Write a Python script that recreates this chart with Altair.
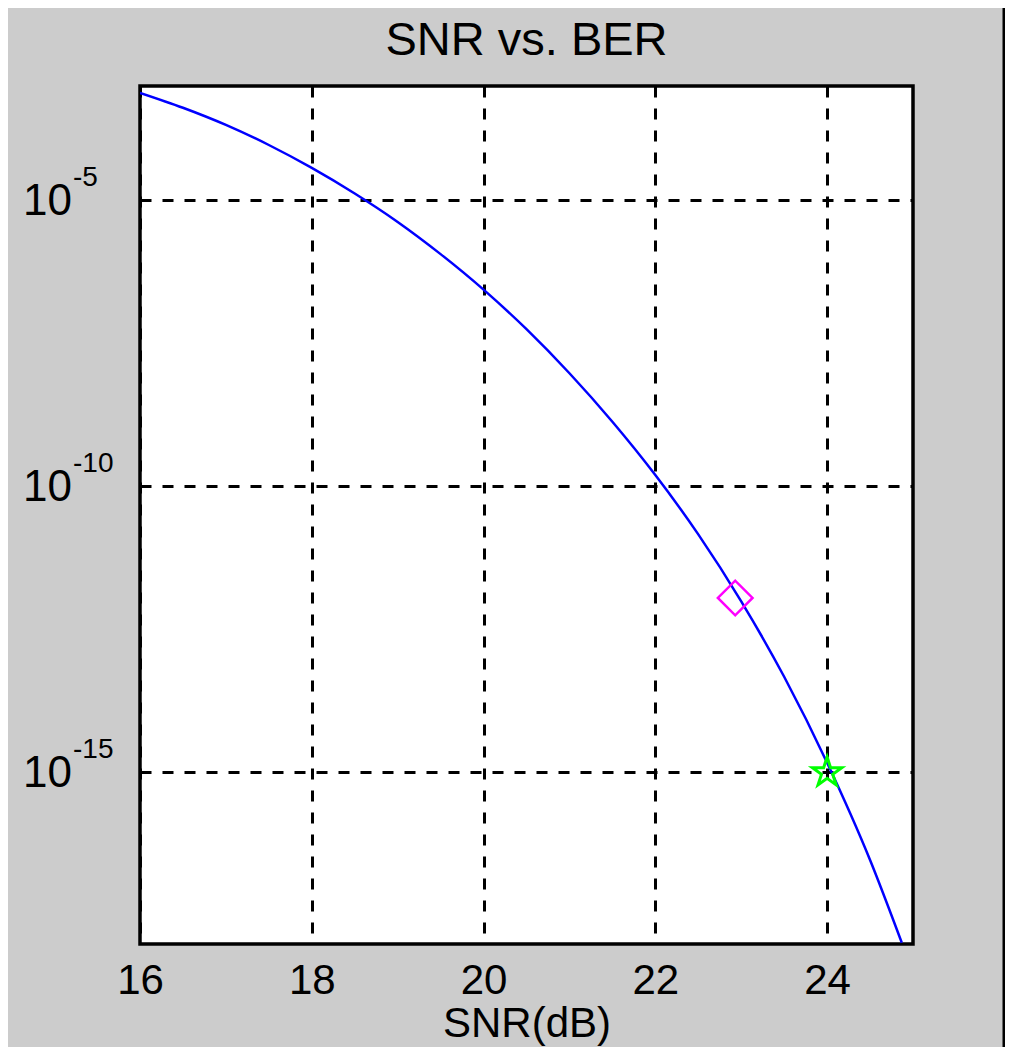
import altair as alt
import pandas as pd

# Curve
snr = [16, 16.5, 17, 17.5, 18, 18.5, 19, 19.5, 20, 20.5, 21, 21.5, 22, 22.5,
       23, 23.5, 24, 24.5, 24.87]
ber = [7.6e-4, 4.17e-4, 2.09e-4, 9.3e-5, 3.7e-5, 1.32e-5, 4.2e-6, 1.15e-6,
       2.75e-7, 5.6e-8, 9.5e-9, 1.35e-9, 1.58e-10, 1.45e-11, 9.8e-13, 4.7e-14,
       1.48e-15, 2.95e-17, 1.05e-18]

# Markers
diamond_snr = [22.93]
diamond_ber = [1.12e-12]
star_snr = [24]
star_ber = [1.0e-15]

# Axis ticks
x_ticks = [16, 18, 20, 22, 24]
y_ticks = [1e-5, 1e-10, 1e-15]
y_exps = ["-5", "-10", "-15"]

FONT = "Liberation Sans"
PLOT_W, PLOT_H = 773, 858
PAD_L, PAD_T = 132, 78
CANVAS_W, CANVAS_H = 997, 1039

curve_df = pd.DataFrame({"snr": snr, "ber": ber})
dia_df = pd.DataFrame({"snr": diamond_snr, "ber": diamond_ber})
star_df = pd.DataFrame({"snr": star_snr, "ber": star_ber})
ylab_df = pd.DataFrame({"snr": [16] * len(y_ticks), "ber": y_ticks, "exp": y_exps,
                        "base": ["10"] * len(y_ticks)})

x_scale = alt.Scale(domain=[16, 25], nice=False, zero=False)
y_scale = alt.Scale(type="log", domain=[1e-18, 1e-3], nice=False)

x_axis = alt.Axis(values=x_ticks, grid=True, gridColor="black", gridDash=[11, 11],
                  gridWidth=3, gridOpacity=1, ticks=False, domain=False,
                  labelFont=FONT, labelFontSize=42, labelColor="black",
                  labelPadding=16, title="SNR(dB)", titleFont=FONT,
                  titleFontSize=42, titleFontWeight="normal", titleColor="black",
                  titlePadding=2, labelFlush=False)
y_axis = alt.Axis(values=y_ticks, grid=True, gridColor="black", gridDash=[11, 11],
                  gridWidth=3, gridOpacity=1, ticks=False, domain=False,
                  labels=False, title=None)

X = alt.X("snr:Q", scale=x_scale, axis=x_axis, title="SNR(dB)")
Y = alt.Y("ber:Q", scale=y_scale, axis=y_axis, title=None)

line = alt.Chart(curve_df).mark_line(color="#0000ff", strokeWidth=2.5,
                                     interpolate="monotone", clip=True).encode(
    x=X, y=Y,
)

diamond = alt.Chart(dia_df).mark_point(shape="diamond", filled=False,
                                       color="#ff00ff", size=1200,
                                       strokeWidth=2.5, opacity=1).encode(
    x=X, y=Y,
)

star_path = ("M0,-1L0.2245,-0.309L0.951,-0.309L0.363,0.118L0.588,0.809L0,0.382"
             "L-0.588,0.809L-0.363,0.118L-0.951,-0.309L-0.2245,-0.309Z")
star = alt.Chart(star_df).mark_point(shape=star_path, filled=False,
                                     color="#00ff00", size=950,
                                     strokeWidth=3, opacity=1).encode(
    x=X, y=Y,
)

ybase = alt.Chart(ylab_df).mark_text(font=FONT, fontSize=44, color="black",
                                     align="left", baseline="alphabetic",
                                     dx=-117, dy=15).encode(
    x=X, y=Y, text="base:N",
)
yexp = alt.Chart(ylab_df).mark_text(font=FONT, fontSize=28, color="black",
                                    align="left", baseline="alphabetic",
                                    dx=-67, dy=-14).encode(
    x=X, y=Y, text="exp:N",
)

edge = alt.Chart(pd.DataFrame({"k": [0]})).mark_rule(
    color="black", strokeWidth=3).encode(
    x=alt.value(PLOT_W + 91), y=alt.value(-PAD_T - 3),
    y2=alt.value(CANVAS_H - PAD_T + 5),
)

chart = alt.layer(line, diamond, star, ybase, yexp, edge).properties(
    width=PLOT_W, height=PLOT_H,
    title=alt.TitleParams("SNR vs. BER", font=FONT, fontSize=47,
                          fontWeight="normal", color="black", anchor="middle",
                          baseline="alphabetic", offset=-98),
    autosize=alt.AutoSizeParams(type="none"),
    padding={"left": PAD_L, "top": PAD_T,
             "right": CANVAS_W - PAD_L - PLOT_W,
             "bottom": CANVAS_H - PAD_T - PLOT_H},
    background="#cccccc",
).configure_view(
    fill="white", stroke="black", strokeWidth=3.5
)

chart.save("out.html", embed_options={"renderer": "svg", "actions": False})
